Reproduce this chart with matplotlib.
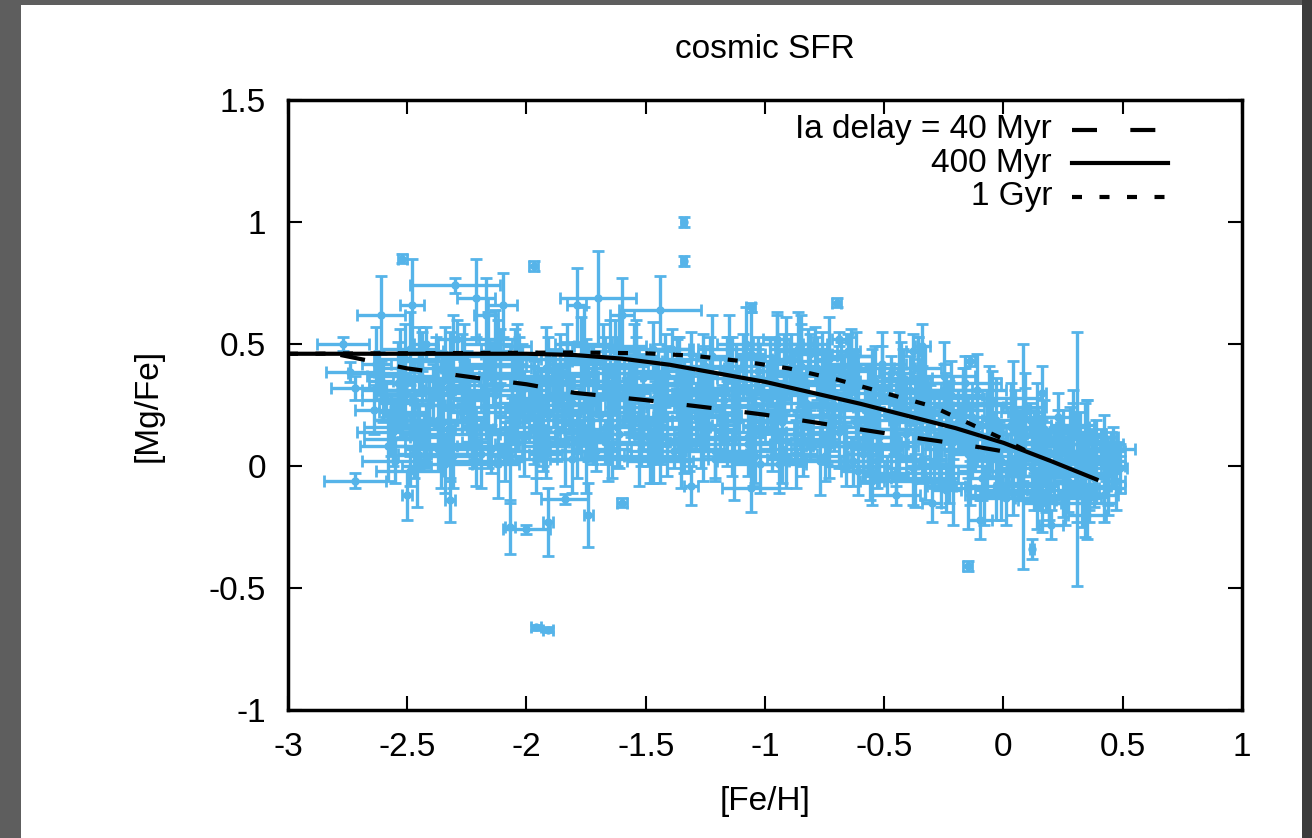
import matplotlib.pyplot as plt
from matplotlib.patches import Rectangle

plt.rcParams['font.family'] = ['Liberation Sans', 'DejaVu Sans']
plt.rcParams['axes.unicode_minus'] = False

feh = [
    -2.64, -2.58, -2.61, -2.56, -2.63, -2.59, -2.57, -2.62, -2.60,
    -2.53, -2.47, -2.51, -2.45, -2.54, -2.49, -2.46, -2.52, -2.48,
    -2.43, -2.38, -2.41, -2.36, -2.44, -2.39, -2.37, -2.42, -2.35,
    -2.34, -2.27, -2.31, -2.26, -2.33, -2.29, -2.25, -2.32, -2.28,
    -2.23, -2.17, -2.21, -2.16, -2.24, -2.19, -2.15, -2.22, -2.18,
    -2.13, -2.08, -2.11, -2.05, -2.14, -2.09, -2.06, -2.12, -2.07,
    -2.03, -1.97, -2.01, -1.96, -2.04, -1.99, -1.95, -2.02, -1.98,
    -1.93, -1.88, -1.91, -1.86, -1.94, -1.89, -1.85, -1.92, -1.87,
    -1.83, -1.77, -1.81, -1.76, -1.84, -1.79, -1.75, -1.82, -1.78,
    -1.73, -1.68, -1.71, -1.66, -1.74, -1.69, -1.65, -1.72, -1.67,
    -1.63, -1.57, -1.61, -1.56, -1.64, -1.59, -1.55, -1.62, -1.58,
    -1.53, -1.48, -1.51, -1.46, -1.54, -1.49, -1.45, -1.52, -1.47,
    -1.43, -1.37, -1.41, -1.36, -1.44, -1.39, -1.35, -1.42, -1.38,
    -1.33, -1.28, -1.31, -1.26, -1.34, -1.29, -1.25, -1.32, -1.27,
    -1.23, -1.17, -1.21, -1.16, -1.24, -1.19, -1.15, -1.22, -1.18,
    -1.13, -1.08, -1.11, -1.06, -1.14, -1.09, -1.05, -1.12, -1.07,
    -1.03, -0.97, -1.01, -0.96, -1.04, -0.99, -0.95, -1.02, -0.98,
    -0.93, -0.88, -0.91, -0.86, -0.94, -0.89, -0.85, -0.92, -0.87,
    -0.83, -0.77, -0.81, -0.76, -0.84, -0.79, -0.75, -0.82, -0.78,
    -0.73, -0.68, -0.71, -0.66, -0.74, -0.69, -0.65, -0.72, -0.67,
    -0.63, -0.57, -0.61, -0.56, -0.64, -0.59, -0.55, -0.62, -0.58,
    -0.53, -0.48, -0.51, -0.46, -0.54, -0.49, -0.45, -0.52, -0.47,
    -0.43, -0.37, -0.41, -0.36, -0.44, -0.39, -0.35, -0.42, -0.38,
    -0.33, -0.28, -0.31, -0.26, -0.34, -0.29, -0.25, -0.32, -0.27,
    -0.23, -0.17, -0.21, -0.16, -0.24, -0.19, -0.15, -0.22, -0.18,
    -0.13, -0.08, -0.11, -0.06, -0.14, -0.09, -0.05, -0.12, -0.07,
    -0.03, 0.03, -0.01, 0.04, -0.04, 0.01, 0.05, -0.02, 0.02,
    0.07, 0.12, 0.09, 0.14, 0.06, 0.11, 0.15, 0.08, 0.13,
    0.17, 0.23, 0.19, 0.24, 0.16, 0.21, 0.25, 0.18, 0.22,
    0.27, 0.32, 0.29, 0.34, 0.26, 0.31, 0.35, 0.28, 0.33,
    0.37, 0.42, 0.39, 0.44, 0.36, 0.41, 0.46, 0.38, 0.43,
    # outliers and long error bars
    -2.77, -2.74, -2.72, -2.55, -2.45, -2.49, -2.72, -2.61, -2.52, -2.48,
    -2.30, -2.21, -2.10, -2.17, -1.97, -1.79, -1.70, -1.60, -1.44, -1.34,
    -1.34, -1.06, -0.70, -0.69, -0.34, -0.38, 0.31, 0.08, 0.16, -0.14,
    -0.15, 0.12, 0.48, -1.96, -1.91, -1.91, -1.74, -1.84, -1.06, -1.31,
    -1.60, -2.50, -2.32, -2.07, -2.00, -0.95, -0.85, -0.62, -0.55, -0.30,
    -0.10, 0.20, 0.35, -0.45,
]
mgfe = [
    0.23, 0.08, 0.35, 0.14, 0.42, 0.27, 0.19, 0.38, 0.31,
    0.31, 0.05, 0.44, 0.17, 0.26, 0.48, 0.11, 0.37, 0.21,
    0.12, 0.40, 0.25, 0.05, 0.47, 0.30, 0.19, 0.50, 0.35,
    0.46, 0.22, 0.04, 0.33, 0.15, 0.52, 0.28, 0.09, 0.39,
    0.20, 0.36, 0.10, 0.50, 0.27, 0.05, 0.42, 0.15, 0.31,
    0.29, 0.09, 0.45, 0.18, 0.38, 0.04, 0.24, 0.52, 0.13,
    0.41, 0.16, 0.32, 0.06, 0.49, 0.23, 0.12, 0.36, 0.27,
    0.08, 0.34, 0.21, 0.47, 0.14, 0.39, 0.28, 0.05, 0.25,
    0.37, 0.11, 0.26, 0.50, 0.18, 0.06, 0.43, 0.30, 0.22,
    0.15, 0.44, 0.06, 0.29, 0.35, 0.21, 0.49, 0.10, 0.40,
    0.47, 0.24, 0.13, 0.38, 0.07, 0.32, 0.19, 0.42, 0.27,
    0.20, 0.06, 0.36, 0.28, 0.45, 0.12, 0.33, 0.17, 0.48,
    0.31, 0.43, 0.09, 0.22, 0.15, 0.48, 0.26, 0.39, 0.06,
    0.13, 0.27, 0.46, 0.07, 0.34, 0.20, 0.41, 0.10, 0.30,
    0.38, 0.17, 0.06, 0.44, 0.25, 0.12, 0.48, 0.29, 0.21,
    0.24, 0.50, 0.32, 0.14, 0.05, 0.41, 0.19, 0.36, 0.09,
    0.45, 0.10, 0.28, 0.35, 0.04, 0.22, 0.50, 0.16, 0.39,
    0.18, 0.37, 0.03, 0.48, 0.26, 0.43, 0.09, 0.31, 0.13,
    0.30, 0.02, 0.46, 0.21, 0.11, 0.50, 0.35, 0.16, 0.40,
    0.08, 0.41, 0.25, 0.00, 0.33, 0.14, 0.47, 0.20, 0.37,
    0.39, 0.12, -0.02, 0.27, 0.45, 0.05, 0.33, 0.18, 0.23,
    0.02, 0.29, 0.42, 0.15, 0.35, -0.04, 0.21, 0.09, 0.38,
    0.26, -0.06, 0.13, 0.40, 0.04, 0.31, 0.19, 0.36, -0.01,
    0.34, 0.07, 0.22, -0.08, 0.28, 0.01, 0.37, 0.15, 0.11,
    -0.03, 0.25, 0.10, 0.34, -0.10, 0.18, 0.05, 0.29, 0.14,
    0.20, -0.12, 0.31, 0.03, 0.13, -0.05, 0.26, 0.08, 0.17,
    -0.08, 0.16, 0.02, 0.28, 0.10, -0.13, 0.22, 0.06, -0.02,
    0.13, -0.01, 0.24, -0.14, 0.07, 0.19, -0.07, 0.03, 0.10,
    0.05, 0.20, -0.10, 0.12, -0.15, 0.01, 0.16, -0.04, 0.08,
    -0.06, 0.09, 0.16, -0.15, 0.02, -0.11, 0.12, 0.05, -0.01,
    0.04, -0.12, 0.10, -0.03, -0.08, 0.07, 0.00, -0.05, 0.02,
    # outliers and long error bars
    0.50, 0.385, 0.32, 0.19, 0.045, -0.02, -0.06, 0.62, 0.85, 0.66,
    0.74, 0.69, 0.66, 0.62, 0.82, 0.66, 0.69, 0.62, 0.64, 1.00,
    0.84, 0.65, 0.67, 0.52, 0.49, 0.47, 0.03, 0.04, 0.30, 0.43,
    -0.41, -0.34, 0.07, -0.66, -0.67, -0.23, -0.20, -0.135, -0.09, -0.08,
    -0.15, -0.12, -0.14, -0.25, -0.26, 0.52, 0.50, 0.45, -0.06, -0.15,
    -0.22, -0.24, -0.20, -0.12,
]
feh_err = [
    0.08, 0.12, 0.05, 0.15, 0.06, 0.10, 0.07, 0.13, 0.09,
    0.10, 0.07, 0.13, 0.09, 0.08, 0.12, 0.05, 0.15, 0.06,
    0.06, 0.10, 0.07, 0.13, 0.09, 0.08, 0.12, 0.05, 0.15,
    0.15, 0.06, 0.10, 0.07, 0.13, 0.09, 0.08, 0.12, 0.05,
    0.05, 0.15, 0.06, 0.10, 0.07, 0.13, 0.09, 0.08, 0.12,
    0.12, 0.05, 0.15, 0.06, 0.10, 0.07, 0.13, 0.09, 0.08,
    0.08, 0.12, 0.05, 0.15, 0.06, 0.10, 0.07, 0.13, 0.09,
    0.09, 0.08, 0.12, 0.05, 0.15, 0.06, 0.10, 0.07, 0.13,
    0.13, 0.09, 0.08, 0.12, 0.05, 0.15, 0.06, 0.10, 0.07,
    0.07, 0.13, 0.09, 0.08, 0.12, 0.05, 0.15, 0.06, 0.10,
    0.10, 0.07, 0.13, 0.09, 0.08, 0.12, 0.05, 0.15, 0.06,
    0.06, 0.10, 0.07, 0.13, 0.09, 0.08, 0.12, 0.05, 0.15,
    0.15, 0.06, 0.10, 0.07, 0.13, 0.09, 0.08, 0.12, 0.05,
    0.05, 0.15, 0.06, 0.10, 0.07, 0.13, 0.09, 0.08, 0.12,
    0.12, 0.05, 0.15, 0.06, 0.10, 0.07, 0.13, 0.09, 0.08,
    0.08, 0.12, 0.05, 0.15, 0.06, 0.10, 0.07, 0.13, 0.09,
    0.09, 0.08, 0.12, 0.05, 0.15, 0.06, 0.10, 0.07, 0.13,
    0.13, 0.09, 0.08, 0.12, 0.05, 0.15, 0.06, 0.10, 0.07,
    0.07, 0.13, 0.09, 0.08, 0.12, 0.05, 0.15, 0.06, 0.10,
    0.10, 0.07, 0.13, 0.09, 0.08, 0.12, 0.05, 0.15, 0.06,
    0.06, 0.10, 0.07, 0.13, 0.09, 0.08, 0.12, 0.05, 0.15,
    0.15, 0.06, 0.10, 0.07, 0.13, 0.09, 0.08, 0.12, 0.05,
    0.05, 0.15, 0.06, 0.10, 0.07, 0.13, 0.09, 0.08, 0.12,
    0.12, 0.05, 0.15, 0.06, 0.10, 0.07, 0.13, 0.09, 0.08,
    0.08, 0.12, 0.05, 0.15, 0.06, 0.10, 0.07, 0.13, 0.09,
    0.09, 0.08, 0.12, 0.05, 0.15, 0.06, 0.10, 0.07, 0.13,
    0.13, 0.09, 0.08, 0.12, 0.05, 0.15, 0.06, 0.10, 0.07,
    0.07, 0.13, 0.09, 0.08, 0.12, 0.05, 0.15, 0.06, 0.10,
    0.10, 0.07, 0.13, 0.09, 0.08, 0.12, 0.05, 0.15, 0.06,
    0.06, 0.10, 0.07, 0.13, 0.09, 0.08, 0.12, 0.05, 0.15,
    0.05, 0.06, 0.07, 0.05, 0.09, 0.06, 0.05, 0.04, 0.08,
    # outliers and long error bars
    0.11, 0.10, 0.10, 0.09, 0.10, 0.14, 0.13, 0.10, 0.02, 0.05,
    0.19, 0.08, 0.06, 0.05, 0.02, 0.04, 0.16, 0.05, 0.17, 0.01,
    0.01, 0.02, 0.02, 0.03, 0.03, 0.03, 0.05, 0.02, 0.02, 0.02,
    0.02, 0.01, 0.07, 0.02, 0.02, 0.02, 0.02, 0.10, 0.12, 0.03,
    0.02, 0.02, 0.02, 0.02, 0.10, 0.06, 0.05, 0.08, 0.05, 0.04,
    0.05, 0.05, 0.08, 0.10,
]
mgfe_err = [
    0.10, 0.14, 0.08, 0.12, 0.15, 0.07, 0.11, 0.09, 0.13,
    0.13, 0.10, 0.14, 0.08, 0.12, 0.15, 0.07, 0.11, 0.09,
    0.09, 0.13, 0.10, 0.14, 0.08, 0.12, 0.15, 0.07, 0.11,
    0.11, 0.09, 0.13, 0.10, 0.14, 0.08, 0.12, 0.15, 0.07,
    0.07, 0.11, 0.09, 0.13, 0.10, 0.14, 0.08, 0.12, 0.15,
    0.15, 0.07, 0.11, 0.09, 0.13, 0.10, 0.14, 0.08, 0.12,
    0.12, 0.15, 0.07, 0.11, 0.09, 0.13, 0.10, 0.14, 0.08,
    0.08, 0.12, 0.15, 0.07, 0.11, 0.09, 0.13, 0.10, 0.14,
    0.14, 0.08, 0.12, 0.15, 0.07, 0.11, 0.09, 0.13, 0.10,
    0.10, 0.14, 0.08, 0.12, 0.15, 0.07, 0.11, 0.09, 0.13,
    0.13, 0.10, 0.14, 0.08, 0.12, 0.15, 0.07, 0.11, 0.09,
    0.09, 0.13, 0.10, 0.14, 0.08, 0.12, 0.15, 0.07, 0.11,
    0.11, 0.09, 0.13, 0.10, 0.14, 0.08, 0.12, 0.15, 0.07,
    0.07, 0.11, 0.09, 0.13, 0.10, 0.14, 0.08, 0.12, 0.15,
    0.15, 0.07, 0.11, 0.09, 0.13, 0.10, 0.14, 0.08, 0.12,
    0.12, 0.15, 0.07, 0.11, 0.09, 0.13, 0.10, 0.14, 0.08,
    0.08, 0.12, 0.15, 0.07, 0.11, 0.09, 0.13, 0.10, 0.14,
    0.14, 0.08, 0.12, 0.15, 0.07, 0.11, 0.09, 0.13, 0.10,
    0.10, 0.14, 0.08, 0.12, 0.15, 0.07, 0.11, 0.09, 0.13,
    0.13, 0.10, 0.14, 0.08, 0.12, 0.15, 0.07, 0.11, 0.09,
    0.09, 0.13, 0.10, 0.14, 0.08, 0.12, 0.15, 0.07, 0.11,
    0.11, 0.09, 0.13, 0.10, 0.14, 0.08, 0.12, 0.15, 0.07,
    0.07, 0.11, 0.09, 0.13, 0.10, 0.14, 0.08, 0.12, 0.15,
    0.15, 0.07, 0.11, 0.09, 0.13, 0.10, 0.14, 0.08, 0.12,
    0.12, 0.15, 0.07, 0.11, 0.09, 0.13, 0.10, 0.14, 0.08,
    0.08, 0.12, 0.15, 0.07, 0.11, 0.09, 0.13, 0.10, 0.14,
    0.14, 0.08, 0.12, 0.15, 0.07, 0.11, 0.09, 0.13, 0.10,
    0.10, 0.14, 0.08, 0.12, 0.15, 0.07, 0.11, 0.09, 0.13,
    0.13, 0.10, 0.14, 0.08, 0.12, 0.15, 0.07, 0.11, 0.09,
    0.09, 0.13, 0.10, 0.14, 0.08, 0.12, 0.15, 0.07, 0.11,
    0.07, 0.11, 0.09, 0.13, 0.10, 0.08, 0.08, 0.12, 0.10,
    # outliers and long error bars
    0.03, 0.04, 0.05, 0.05, 0.06, 0.06, 0.03, 0.16, 0.02, 0.19,
    0.03, 0.16, 0.13, 0.15, 0.02, 0.15, 0.19, 0.15, 0.14, 0.02,
    0.02, 0.02, 0.02, 0.03, 0.09, 0.07, 0.52, 0.46, 0.11, 0.02,
    0.02, 0.04, 0.03, 0.01, 0.01, 0.14, 0.13, 0.02, 0.10, 0.08,
    0.02, 0.10, 0.09, 0.11, 0.02, 0.10, 0.12, 0.10, 0.10, 0.08,
    0.08, 0.06, 0.10, 0.04,
]

# second pass over the dense core, between the columns above
feh_b = [
    -2.57, -2.53, -2.55, -2.51, -2.56, -2.54, -2.52,
    -2.47, -2.43, -2.45, -2.41, -2.46, -2.44, -2.42,
    -2.37, -2.33, -2.35, -2.31, -2.36, -2.34, -2.32,
    -2.27, -2.23, -2.25, -2.21, -2.26, -2.24, -2.22,
    -2.17, -2.13, -2.15, -2.11, -2.16, -2.14, -2.12,
    -2.07, -2.03, -2.05, -2.01, -2.06, -2.04, -2.02,
    -1.97, -1.93, -1.95, -1.91, -1.96, -1.94, -1.92,
    -1.87, -1.83, -1.85, -1.81, -1.86, -1.84, -1.82,
    -1.77, -1.73, -1.75, -1.71, -1.76, -1.74, -1.72,
    -1.67, -1.63, -1.65, -1.61, -1.66, -1.64, -1.62,
    -1.57, -1.53, -1.55, -1.51, -1.56, -1.54, -1.52,
    -1.47, -1.43, -1.45, -1.41, -1.46, -1.44, -1.42,
    -1.37, -1.33, -1.35, -1.31, -1.36, -1.34, -1.32,
    -1.27, -1.23, -1.25, -1.21, -1.26, -1.24, -1.22,
    -1.17, -1.13, -1.15, -1.11, -1.16, -1.14, -1.12,
    -1.07, -1.03, -1.05, -1.01, -1.06, -1.04, -1.02,
    -0.97, -0.93, -0.95, -0.91, -0.96, -0.94, -0.92,
    -0.87, -0.83, -0.85, -0.81, -0.86, -0.84, -0.82,
    -0.77, -0.73, -0.75, -0.71, -0.76, -0.74, -0.72,
    -0.67, -0.63, -0.65, -0.61, -0.66, -0.64, -0.62,
    -0.57, -0.53, -0.55, -0.51, -0.56, -0.54, -0.52,
    -0.47, -0.43, -0.45, -0.41, -0.46, -0.44, -0.42,
    -0.37, -0.33, -0.35, -0.31, -0.36, -0.34, -0.32,
    -0.27, -0.23, -0.25, -0.21, -0.26, -0.24, -0.22,
    -0.17, -0.13, -0.15, -0.11, -0.16, -0.14, -0.12,
    -0.07, -0.03, -0.05, -0.01, -0.06, -0.04, -0.02,
    0.03, 0.07, 0.05, 0.09, 0.04, 0.06, 0.08,
    0.13, 0.17, 0.15, 0.19, 0.14, 0.16, 0.18,
    0.23, 0.27, 0.25, 0.29, 0.24, 0.26, 0.28,
    0.33, 0.37, 0.35, 0.39, 0.34, 0.36, 0.38,
    0.43, 0.47, 0.45, 0.49, 0.44, 0.46, 0.42,
]
mgfe_b = [
    0.16, 0.40, 0.02, 0.29, 0.11, 0.34, 0.22,
    0.27, 0.08, 0.43, 0.19, 0.00, 0.36, 0.13,
    0.07, 0.32, 0.18, 0.45, 0.25, 0.01, 0.39,
    0.40, 0.13, 0.30, 0.02, 0.46, 0.24, 0.08,
    0.22, 0.47, 0.07, 0.33, 0.15, 0.41, 0.01,
    0.02, 0.26, 0.44, 0.12, 0.37, 0.20, 0.31,
    0.33, 0.10, 0.19, 0.44, 0.03, 0.28, 0.40,
    0.14, 0.42, 0.29, 0.03, 0.35, 0.09, 0.23,
    0.45, 0.19, 0.03, 0.33, 0.25, 0.12, 0.38,
    0.10, 0.35, 0.22, 0.45, 0.04, 0.28, 0.16,
    0.30, 0.03, 0.41, 0.17, 0.24, 0.44, 0.09,
    0.04, 0.25, 0.13, 0.37, 0.19, 0.02, 0.33,
    0.36, 0.16, 0.03, 0.24, 0.44, 0.11, 0.29,
    0.09, 0.32, 0.23, 0.03, 0.40, 0.15, 0.45,
    0.27, 0.02, 0.44, 0.19, 0.11, 0.36, 0.31,
    0.12, 0.39, 0.06, 0.30, 0.46, 0.25, 0.01,
    0.33, 0.07, 0.23, 0.44, 0.15, 0.01, 0.38,
    0.05, 0.26, 0.41, 0.13, 0.34, 0.21, 0.47,
    0.29, 0.44, 0.04, 0.18, 0.39, 0.10, 0.24,
    0.16, 0.02, 0.35, 0.24, 0.08, 0.42, 0.30,
    0.32, 0.07, 0.19, 0.40, 0.00, 0.26, 0.12,
    0.08, 0.35, -0.03, 0.22, 0.15, 0.38, 0.28,
    0.18, -0.05, 0.30, 0.10, 0.36, 0.03, 0.24,
    0.00, 0.21, 0.31, -0.07, 0.12, 0.26, 0.07,
    0.23, 0.06, -0.09, 0.16, 0.28, 0.00, 0.11,
    -0.02, 0.19, 0.08, -0.10, 0.25, 0.13, 0.04,
    0.17, -0.04, 0.09, 0.22, -0.11, 0.01, 0.13,
    -0.08, 0.15, 0.04, -0.13, 0.20, 0.09, -0.02,
    0.11, -0.03, -0.12, 0.17, 0.06, -0.07, 0.14,
    -0.09, 0.06, 0.13, -0.04, 0.09, -0.13, 0.01,
    0.03, -0.06, 0.06, -0.01, -0.09, 0.09, 0.12,
]
feh_err_b = [
    0.11, 0.07, 0.14, 0.09, 0.12, 0.06, 0.10,
    0.07, 0.14, 0.09, 0.12, 0.06, 0.10, 0.11,
    0.14, 0.09, 0.12, 0.06, 0.10, 0.11, 0.07,
    0.09, 0.12, 0.06, 0.10, 0.11, 0.07, 0.14,
    0.12, 0.06, 0.10, 0.11, 0.07, 0.14, 0.09,
    0.06, 0.10, 0.11, 0.07, 0.14, 0.09, 0.12,
    0.10, 0.11, 0.07, 0.14, 0.09, 0.12, 0.06,
    0.11, 0.07, 0.14, 0.09, 0.12, 0.06, 0.10,
    0.07, 0.14, 0.09, 0.12, 0.06, 0.10, 0.11,
    0.14, 0.09, 0.12, 0.06, 0.10, 0.11, 0.07,
    0.09, 0.12, 0.06, 0.10, 0.11, 0.07, 0.14,
    0.12, 0.06, 0.10, 0.11, 0.07, 0.14, 0.09,
    0.06, 0.10, 0.11, 0.07, 0.14, 0.09, 0.12,
    0.10, 0.11, 0.07, 0.14, 0.09, 0.12, 0.06,
    0.11, 0.07, 0.14, 0.09, 0.12, 0.06, 0.10,
    0.07, 0.14, 0.09, 0.12, 0.06, 0.10, 0.11,
    0.14, 0.09, 0.12, 0.06, 0.10, 0.11, 0.07,
    0.09, 0.12, 0.06, 0.10, 0.11, 0.07, 0.14,
    0.12, 0.06, 0.10, 0.11, 0.07, 0.14, 0.09,
    0.06, 0.10, 0.11, 0.07, 0.14, 0.09, 0.12,
    0.10, 0.11, 0.07, 0.14, 0.09, 0.12, 0.06,
    0.11, 0.07, 0.14, 0.09, 0.12, 0.06, 0.10,
    0.07, 0.14, 0.09, 0.12, 0.06, 0.10, 0.11,
    0.14, 0.09, 0.12, 0.06, 0.10, 0.11, 0.07,
    0.09, 0.12, 0.06, 0.10, 0.11, 0.07, 0.14,
    0.12, 0.06, 0.10, 0.11, 0.07, 0.14, 0.09,
    0.06, 0.10, 0.11, 0.07, 0.14, 0.09, 0.12,
    0.10, 0.11, 0.07, 0.14, 0.09, 0.12, 0.06,
    0.11, 0.07, 0.14, 0.09, 0.12, 0.06, 0.10,
    0.07, 0.09, 0.08, 0.06, 0.10, 0.05, 0.08,
    0.05, 0.04, 0.06, 0.03, 0.07, 0.04, 0.06,
]
mgfe_err_b = [
    0.12, 0.16, 0.09, 0.14, 0.11, 0.17, 0.10,
    0.16, 0.09, 0.14, 0.11, 0.17, 0.10, 0.12,
    0.09, 0.14, 0.11, 0.17, 0.10, 0.12, 0.16,
    0.14, 0.11, 0.17, 0.10, 0.12, 0.16, 0.09,
    0.11, 0.17, 0.10, 0.12, 0.16, 0.09, 0.14,
    0.17, 0.10, 0.12, 0.16, 0.09, 0.14, 0.11,
    0.10, 0.12, 0.16, 0.09, 0.14, 0.11, 0.17,
    0.12, 0.16, 0.09, 0.14, 0.11, 0.17, 0.10,
    0.16, 0.09, 0.14, 0.11, 0.17, 0.10, 0.12,
    0.09, 0.14, 0.11, 0.17, 0.10, 0.12, 0.16,
    0.14, 0.11, 0.17, 0.10, 0.12, 0.16, 0.09,
    0.11, 0.17, 0.10, 0.12, 0.16, 0.09, 0.14,
    0.17, 0.10, 0.12, 0.16, 0.09, 0.14, 0.11,
    0.10, 0.12, 0.16, 0.09, 0.14, 0.11, 0.17,
    0.12, 0.16, 0.09, 0.14, 0.11, 0.17, 0.10,
    0.16, 0.09, 0.14, 0.11, 0.17, 0.10, 0.12,
    0.09, 0.14, 0.11, 0.17, 0.10, 0.12, 0.16,
    0.14, 0.11, 0.17, 0.10, 0.12, 0.16, 0.09,
    0.11, 0.17, 0.10, 0.12, 0.16, 0.09, 0.14,
    0.17, 0.10, 0.12, 0.16, 0.09, 0.14, 0.11,
    0.10, 0.12, 0.16, 0.09, 0.14, 0.11, 0.17,
    0.12, 0.16, 0.09, 0.14, 0.11, 0.17, 0.10,
    0.16, 0.09, 0.14, 0.11, 0.17, 0.10, 0.12,
    0.09, 0.14, 0.11, 0.17, 0.10, 0.12, 0.16,
    0.14, 0.11, 0.17, 0.10, 0.12, 0.16, 0.09,
    0.11, 0.17, 0.10, 0.12, 0.16, 0.09, 0.14,
    0.17, 0.10, 0.12, 0.16, 0.09, 0.14, 0.11,
    0.10, 0.12, 0.16, 0.09, 0.14, 0.11, 0.17,
    0.12, 0.16, 0.09, 0.14, 0.11, 0.17, 0.10,
    0.16, 0.09, 0.14, 0.11, 0.17, 0.10, 0.12,
    0.09, 0.12, 0.08, 0.10, 0.11, 0.07, 0.09,
]

# model tracks for three SN Ia delay times
feh_40myr = [-2.78, -2.5, -2.2, -2.0, -1.8, -1.5, -1.2, -1.0, -0.7, -0.4, -0.15, 0.12]
mgfe_40myr = [0.455, 0.40, 0.36, 0.335, 0.30, 0.27, 0.235, 0.21, 0.165, 0.12, 0.085, 0.04]
feh_400myr = [-3.0, -2.5, -2.0, -1.8, -1.6, -1.4, -1.2, -1.0, -0.8, -0.6, -0.4, -0.2, 0.0, 0.2, 0.39]
mgfe_400myr = [0.46, 0.46, 0.46, 0.455, 0.44, 0.415, 0.38, 0.345, 0.30, 0.255, 0.205, 0.155, 0.095, 0.02, -0.055]
feh_1gyr = [-3.0, -1.8, -1.5, -1.3, -1.1, -0.9, -0.7, -0.5, -0.3, -0.1, 0.0, 0.12]
mgfe_1gyr = [0.46, 0.465, 0.462, 0.452, 0.43, 0.40, 0.355, 0.30, 0.245, 0.155, 0.11, 0.05]

labels = ['Ia delay = 40 Myr', '400 Myr', '1 Gyr']
xticks = [-3, -2.5, -2, -1.5, -1, -0.5, 0, 0.5, 1]
xtick_labels = ['-3', '-2.5', '-2', '-1.5', '-1', '-0.5', '0', '0.5', '1']
yticks = [-1, -0.5, 0, 0.5, 1, 1.5]
ytick_labels = ['-1', '-0.5', '0', '0.5', '1', '1.5']

fig = plt.figure(figsize=(13.12, 8.38), dpi=100, facecolor='#5e5e5e')
fig.patches.append(Rectangle((1302 / 1312, 0), 10 / 1312, 1, transform=fig.transFigure,
                             facecolor='#3c3c3c', edgecolor='none', zorder=-2))
fig.patches.append(Rectangle((21 / 1312, 0), 1281 / 1312, 833 / 838, transform=fig.transFigure,
                             facecolor='white', edgecolor='none', zorder=-1))

ax = fig.add_axes([0.2195, 0.1527, 0.7271, 0.728])

star_style = dict(fmt='o', ms=5, color='#56b4e9', ecolor='#56b4e9', elinewidth=2.4,
                  capsize=4, capthick=2.0, zorder=1)
ax.errorbar(feh, mgfe, xerr=feh_err, yerr=mgfe_err, **star_style)
ax.errorbar(feh_b, mgfe_b, xerr=feh_err_b, yerr=mgfe_err_b, **star_style)

styles = [(6, 8), None, (2.4, 4.2)]
tracks = [(feh_40myr, mgfe_40myr), (feh_400myr, mgfe_400myr), (feh_1gyr, mgfe_1gyr)]
for (xs, ys), dash in zip(tracks, styles):
    line, = ax.plot(xs, ys, color='black', lw=3, zorder=3)
    if dash:
        line.set_dashes(dash)

# gnuplot-style key: text right-aligned, sample to the right
for i, (lab, dash) in enumerate(zip(labels, styles)):
    y = 0.951 - 0.055 * i
    ax.text(0.801, y, lab, ha='right', va='center', fontsize=24, transform=ax.transAxes)
    sample, = ax.plot([0.822, 0.922], [y, y], color='black', lw=3, transform=ax.transAxes)
    if dash:
        sample.set_dashes(dash)

ax.set_xlim(-3, 1)
ax.set_ylim(-1, 1.5)
ax.set_xticks(xticks)
ax.set_xticklabels(xtick_labels)
ax.set_yticks(yticks)
ax.set_yticklabels(ytick_labels)
ax.tick_params(direction='in', length=10, width=1.5, top=True, right=True, labelsize=24, pad=16)
for s in ax.spines.values():
    s.set_linewidth(2.5)

ax.set_title('cosmic SFR', fontsize=24, pad=30)
ax.set_xlabel('[Fe/H]', fontsize=24)
ax.xaxis.set_label_coords(0.5, -0.125)
ax.set_ylabel('[Mg/Fe]', fontsize=24)
ax.yaxis.set_label_coords(-0.13, 0.5)

fig.savefig('out.png', dpi=100, facecolor=fig.get_facecolor())
